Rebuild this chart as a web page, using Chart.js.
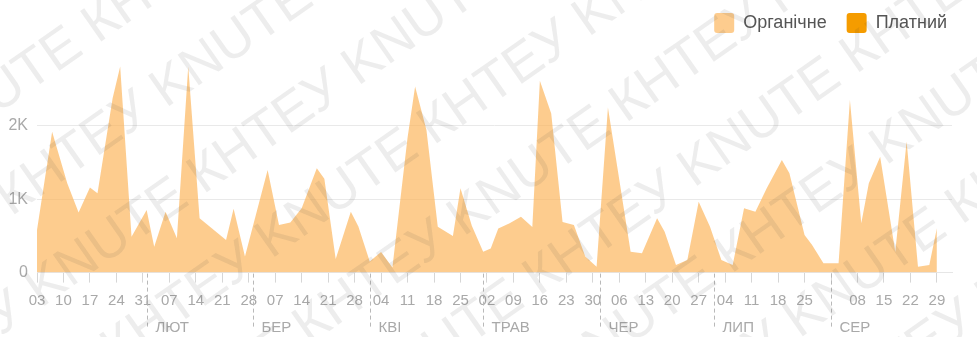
<!DOCTYPE html>
<html>
<head>
<meta charset="utf-8">
<script src="https://cdn.jsdelivr.net/npm/chart.js@4.4.1/dist/chart.umd.min.js"></script>
<style>
  html, body { margin: 0; padding: 0; background: #fff; }
  #wrap { width: 977px; height: 337px; position: relative; }
  canvas { display: block; }
</style>
</head>
<body>
<div id="wrap"><canvas id="traffic" width="977" height="337"></canvas></div>
<script>
// Daily traffic, 2022: offsets in days from the first date, visits per source
const startDate = Date.UTC(2022, 0, 3);
const days = [0, 4, 8, 11, 14, 16, 20, 22, 25, 29, 31, 34, 37, 40, 43, 50, 52, 55, 61, 64,
  67, 70, 74, 76, 79, 83, 85, 88, 91, 94, 98, 100, 103, 106, 110, 112, 115, 118, 120, 122,
  125, 128, 131, 133, 136, 139, 142, 145, 148, 151, 157, 160, 164, 166, 169, 172, 175, 178, 181, 184,
  187, 190, 193, 197, 199, 203, 205, 208, 212, 215, 218, 220, 223, 227, 230, 233, 236, 238];
const organic = [580, 1920, 1218, 820, 1159, 1082, 2378, 2809, 490, 854, 353, 831, 468, 2809, 741, 445, 870, 220, 1400, 650,
  684, 877, 1423, 1280, 185, 831, 630, 150, 280, 70, 1840, 2536, 1945, 626, 500, 1150, 640, 285, 330, 600,
  673, 763, 620, 2615, 2170, 690, 650, 220, 80, 2250, 285, 263, 741, 558, 104, 172, 967, 626, 172, 104,
  877, 831, 1150, 1536, 1354, 513, 376, 127, 127, 2354, 672, 1218, 1581, 285, 1786, 80, 104, 604];
const paid = [0, 0, 0, 0, 0, 0, 0, 0, 0, 0, 0, 0, 0, 0, 0, 0, 0, 0, 0, 0,
  0, 0, 0, 0, 0, 0, 0, 0, 0, 0, 0, 0, 0, 0, 0, 0, 0, 0, 0, 0,
  0, 0, 0, 0, 0, 0, 0, 0, 0, 0, 0, 0, 0, 0, 0, 0, 0, 0, 0, 0,
  0, 0, 0, 0, 0, 0, 0, 0, 0, 0, 0, 0, 0, 0, 0, 0, 0, 0];

// Axis ticks
const weekTicks = [0, 7, 14, 21, 28, 35, 42, 49, 56, 63, 70, 77, 84, 91, 98, 105, 112, 119,
  126, 133, 140, 147, 154, 161, 168, 175, 182, 189, 196, 203, 210, 217, 224, 231, 238];
const yTicks = [0, 1000, 2000];
const yTickLabels = ['0', '1K', '2K'];
const monthNames = ['ЛЮТ', 'БЕР', 'КВІ', 'ТРАВ', 'ЧЕР', 'ЛИП', 'СЕР'];
const monthStartDates = ['2022-02-01', '2022-03-01', '2022-04-01', '2022-05-01', '2022-06-01', '2022-07-01', '2022-08-01'];
const seriesNames = ['Органічне', 'Платний'];
const watermarkText = 'KNUTE КНТЕУ ';

const DAY = 86400000;
const toOffset = s => (Date.parse(s + 'T00:00:00Z') - startDate) / DAY;
const monthStarts = monthStartDates.map(toOffset);
const dayLabel = v => {
  const d = new Date(startDate + v * DAY);
  if (monthStarts.includes(v)) return '';
  return String(d.getUTCDate()).padStart(2, '0');
};

const FONT = '"Liberation Sans", Arial, sans-serif';

// Month separators, month names and the diagonal watermark
const decorations = {
  id: 'decorations',
  afterDraw(chart) {
    const { ctx, chartArea } = chart;
    const xs = chart.scales.x;
    ctx.save();
    monthStarts.forEach((d, i) => {
      const x = Math.round(xs.getPixelForValue(d)) + 0.5;
      ctx.strokeStyle = '#b9b9b9';
      ctx.lineWidth = 1;
      ctx.setLineDash([4, 3]);
      ctx.beginPath();
      ctx.moveTo(x, chartArea.bottom + 1);
      ctx.lineTo(x, 329);
      ctx.stroke();
      ctx.setLineDash([]);
      ctx.fillStyle = '#a9a9a9';
      ctx.font = '15px ' + FONT;
      ctx.textAlign = 'left';
      ctx.textBaseline = 'middle';
      ctx.fillText(monthNames[i], x + 8, 328);
    });
    ctx.restore();

    ctx.save();
    ctx.font = '54px ' + FONT;
    ctx.fillStyle = 'rgba(60, 60, 60, 0.09)';
    ctx.textBaseline = 'alphabetic';
    ctx.rotate(-35 * Math.PI / 180);
    const line = watermarkText.repeat(8);
    for (let r = -8; r < 14; r++) {
      ctx.fillText(line, -700 + (r % 2 === 0 ? 0 : 170), r * 92);
    }
    ctx.restore();
  }
};

new Chart(document.getElementById('traffic'), {
  type: 'line',
  data: {
    datasets: [
      {
        label: seriesNames[0],
        data: days.map((d, i) => ({ x: d, y: organic[i] })),
        backgroundColor: 'rgba(252, 180, 88, 0.68)',
        borderColor: 'rgba(252, 180, 88, 0.68)',
        borderWidth: 0,
        pointRadius: 0,
        tension: 0,
        fill: 'origin'
      },
      {
        label: seriesNames[1],
        data: days.map((d, i) => ({ x: d, y: paid[i] })),
        backgroundColor: '#f59c00',
        borderColor: '#f59c00',
        borderWidth: 0,
        pointRadius: 0,
        tension: 0,
        fill: false
      }
    ]
  },
  options: {
    responsive: false,
    animation: false,
    devicePixelRatio: 1,
    layout: { padding: { top: -7, right: 10, left: 0, bottom: 0 } },
    plugins: {
      legend: {
        position: 'top',
        align: 'end',
        labels: {
          boxWidth: 20,
          boxHeight: 20,
          useBorderRadius: true,
          borderRadius: 3,
          padding: 20,
          color: '#555',
          font: { size: 18, family: FONT }
        }
      },
      tooltip: { enabled: false }
    },
    scales: {
      x: {
        type: 'linear',
        min: 0,
        max: 242,
        afterBuildTicks: s => { s.ticks = weekTicks.map(v => ({ value: v })); },
        afterFit: s => { s.height = 64.4; s.paddingRight = 25; },
        grid: { display: true, drawOnChartArea: false, drawTicks: true, tickLength: 10, color: '#d6d6d6' },
        border: { display: true, color: '#e6e6e6' },
        ticks: {
          autoSkip: false,
          maxRotation: 0,
          padding: 9,
          color: '#a9a9a9',
          font: { size: 15, family: FONT },
          callback: v => dayLabel(v)
        }
      },
      y: {
        min: 0,
        max: 3130,
        afterBuildTicks: s => { s.ticks = yTicks.map(v => ({ value: v })); },
        afterFit: s => { s.width = 37; },
        grid: { color: '#e9e9e9', drawTicks: false },
        border: { display: false },
        ticks: {
          padding: 9,
          color: '#a9a9a9',
          font: { size: 16, family: FONT },
          callback: v => yTickLabels[yTicks.indexOf(v)]
        }
      }
    }
  },
  plugins: [decorations]
});
</script>
</body>
</html>
